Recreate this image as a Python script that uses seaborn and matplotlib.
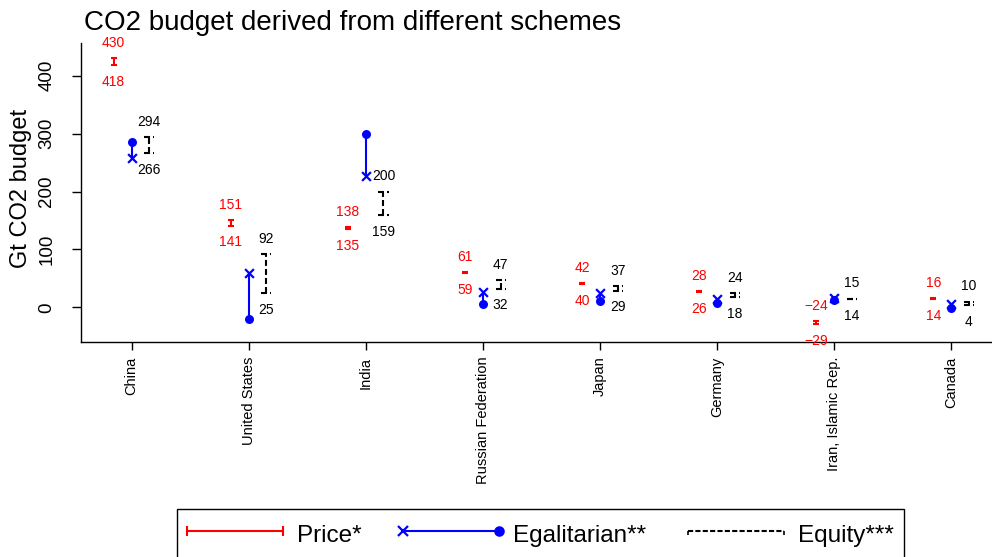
import numpy as np
import pandas as pd
import matplotlib
matplotlib.use("Agg")
import matplotlib.pyplot as plt
import seaborn as sns
from matplotlib.lines import Line2D
from matplotlib.legend_handler import HandlerBase

# ---------------- data ----------------
countries = ["China", "United States", "India", "Russian Federation",
             "Japan", "Germany", "Iran, Islamic Rep.", "Canada"]
price_low = [418, 141, 135, 59, 40, 26, -29, 14]
price_high = [430, 151, 138, 61, 42, 28, -24, 16]
egal_cross = [258, 59, 227, 27, 24, 15, 16, 6]
egal_dot = [286, -21, 300, 6, 11, 7, 13, -2]
equity_low = [266, 25, 159, 32, 29, 18, 14, 4]
equity_high = [294, 92, 200, 47, 37, 24, 15, 10]
y_ticks = [0, 100, 200, 300, 400]

title = "CO2 budget derived from different schemes"
ylabel = "Gt CO2 budget"
legend_labels = ["Price*", "Egalitarian**", "Equity***"]

# ---------------- style ----------------
sns.set_theme(style="ticks", rc={
    "axes.edgecolor": "black", "text.color": "black", "xtick.color": "black",
    "ytick.color": "black", "axes.labelcolor": "black", "lines.scale_dashes": False,
})
plt.rcParams["font.family"] = ["Liberation Sans", "DejaVu Sans"]

W, H = 992, 557
fig = plt.figure(figsize=(W / 100, H / 100), dpi=100)
L, R, T, B = 81, 991, 43.3, 341.7
ax = fig.add_axes([L / W, 1 - B / H, (R - L) / W, (B - T) / H])

idx = np.arange(len(countries))
off_price, off_equity = -0.155, 0.15
pl, ph = np.array(price_low), np.array(price_high)
el, eh = np.array(equity_low), np.array(equity_high)

def fmt(v):
    return str(v).replace("-", "\u2212")

# Price: red error bars
ax.errorbar(idx + off_price, (pl + ph) / 2, yerr=(ph - pl) / 2, fmt="none",
            ecolor="red", elinewidth=1.5, capsize=2.5, capthick=1.5, zorder=3)

# Egalitarian: segment + markers
ax.vlines(idx, egal_dot, egal_cross, colors="blue", lw=1.5, zorder=3)
sns.scatterplot(x=idx, y=egal_cross, marker="x", color="blue", s=40,
                linewidth=1.6, ax=ax, zorder=4)
sns.scatterplot(x=idx, y=egal_dot, marker="o", color="blue", s=42,
                edgecolor="blue", linewidth=0, ax=ax, zorder=5)

# Equity: dashed range with dashed caps
dash = (0, (4.3, 2.2))
capw = 0.043
ax.vlines(idx + off_equity, el, eh, colors="black", lw=1.5, linestyles=dash, zorder=3)
ax.hlines(np.concatenate([el, eh]),
          np.concatenate([idx, idx]) + off_equity - capw,
          np.concatenate([idx, idx]) + off_equity + capw,
          colors="black", lw=1.5, linestyles=dash, zorder=3)

# value labels
for i in idx:
    ax.annotate(fmt(price_high[i]), (i + off_price, price_high[i]), xytext=(0, 11),
                textcoords="offset points", ha="center", va="center", color="red",
                fontsize=10, annotation_clip=False)
    ax.annotate(fmt(price_low[i]), (i + off_price, price_low[i]), xytext=(0, -12),
                textcoords="offset points", ha="center", va="center", color="red",
                fontsize=10, annotation_clip=False)
    ax.annotate(fmt(equity_high[i]), (i + off_equity, equity_high[i]), xytext=(0, 11),
                textcoords="offset points", ha="center", va="center", color="black",
                fontsize=10, annotation_clip=False)
    ax.annotate(fmt(equity_low[i]), (i + off_equity, equity_low[i]), xytext=(0, -12),
                textcoords="offset points", ha="center", va="center", color="black",
                fontsize=10, annotation_clip=False)

# axes
ax.set_xlim(-0.433, 7.338)
ax.set_ylim(-59.4, 456)
ax.set_xticks(idx, countries)
ax.set_yticks(y_ticks, [str(t) for t in y_ticks])
ax.tick_params(axis="x", labelrotation=90, labelsize=10.5, length=5.8, width=1, pad=5)
ax.tick_params(axis="y", labelrotation=90, labelsize=13.5, length=6.5, width=1, pad=12)
for lab in ax.get_yticklabels():
    lab.set_va("center")
sns.despine(ax=ax)
for s in ("left", "bottom"):
    ax.spines[s].set_linewidth(1.0)
ax.set_xlabel("")
ax.set_ylabel(ylabel, fontsize=17)
ax.yaxis.set_label_coords(-0.054, 0.513)

fig.text(84 / W, 1 - 30 / H, title, fontsize=20, ha="left", va="baseline")

# legend
class EndsHandler(HandlerBase):
    def __init__(self, lm, rm, lms, rms, mew):
        super().__init__()
        self.lm, self.rm, self.lms, self.rms, self.mew = lm, rm, lms, rms, mew

    def create_artists(self, legend, orig, xdescent, ydescent, width, height, fontsize, trans):
        y = 0.47 * fontsize
        x0, x1 = -xdescent, width - xdescent
        c = orig.get_color()
        line = Line2D([x0, x1], [y, y], color=c, lw=orig.get_linewidth(),
                      linestyle=orig.get_linestyle(), transform=trans)
        a = Line2D([x0], [y], marker=self.lm, ms=self.lms, mew=self.mew, color=c,
                   mec=c, mfc=c, ls="none", transform=trans)
        b = Line2D([x1], [y], marker=self.rm, ms=self.rms, mew=self.mew, color=c,
                   mec=c, mfc=c, ls="none", transform=trans)
        return [line, a, b]

h_price = Line2D([], [], color="red", lw=1.5)
h_egal = Line2D([], [], color="blue", lw=1.5)
h_eq = Line2D([], [], color="black", lw=1.5, linestyle=(0, (4.3, 2.2)))
leg = fig.legend([h_price, h_egal, h_eq], legend_labels,
                 handler_map={h_price: EndsHandler("|", "|", 7, 7, 1.5),
                              h_egal: EndsHandler("x", "o", 6.5, 6, 1.6),
                              h_eq: EndsHandler(3, 3, 3, 3, 1.2)},
                 loc="upper center", bbox_to_anchor=(540.5 / W, 1 - 509 / H),
                 ncol=3, fontsize=17.5, frameon=True, fancybox=False, shadow=False,
                 handlelength=3.95, handleheight=1.56, handletextpad=0.58,
                 columnspacing=1.72, borderpad=0.4, borderaxespad=0)
leg.get_frame().set_edgecolor("black")
leg.get_frame().set_linewidth(1.0)
leg.get_frame().set_alpha(1)

fig.savefig("out.png", dpi=100)
